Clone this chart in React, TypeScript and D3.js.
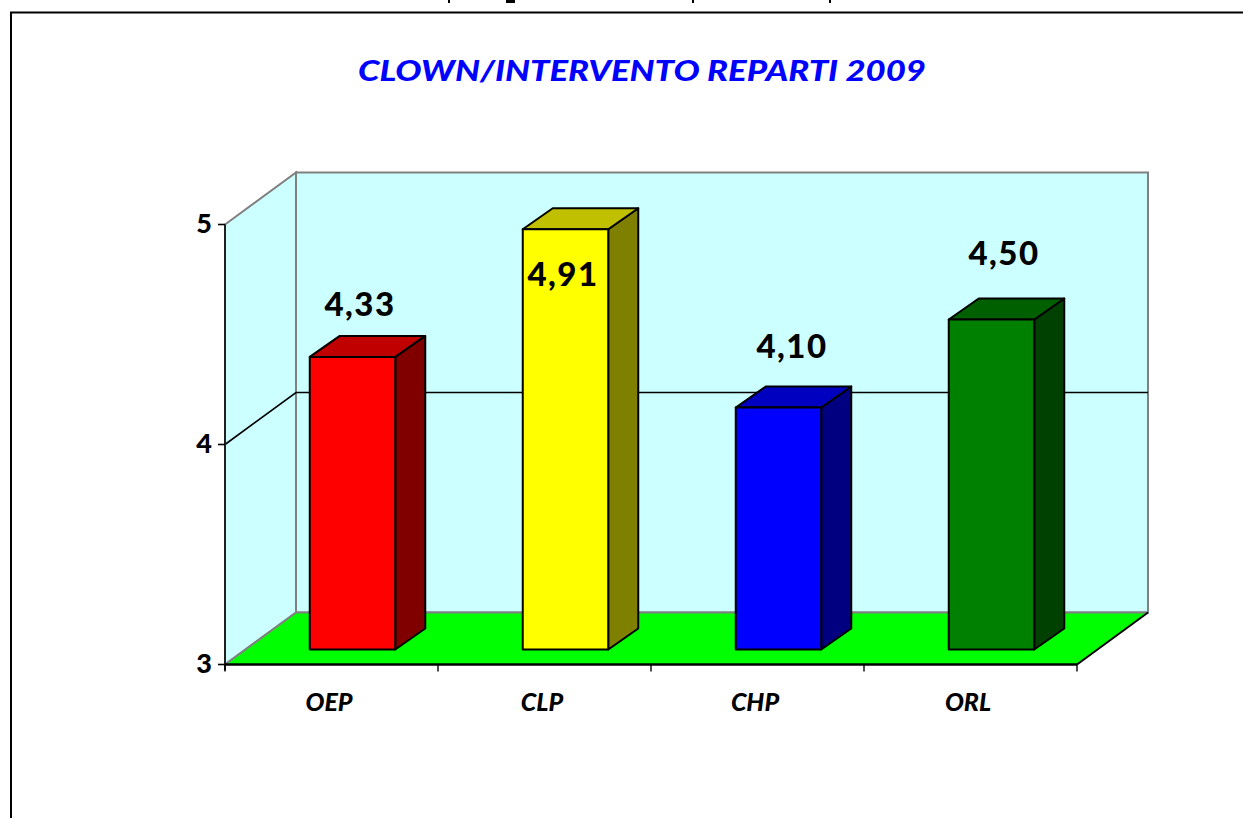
import React from 'react';
import * as d3 from 'd3';

const categories = ['OEP', 'CLP', 'CHP', 'ORL'];
const values = [4.33, 4.91, 4.10, 4.50];
const valueLabels = ['4,33', '4,91', '4,10', '4,50'];
const yTicks = [3, 4, 5];
const frontColors = ['#ff0000', '#ffff00', '#0000ff', '#008000'];
const topColors = ['#c00000', '#c0c000', '#0000c0', '#006000'];
const sideColors = ['#800000', '#808000', '#000080', '#004000'];
const titleText = 'CLOWN/INTERVENTO REPARTI 2009';

const WIDTH = 1243;
const HEIGHT = 818;
const FONT = '"Comic Sans MS", Lato, sans-serif';

// front plane of the 3d box, plus the depth of wall and bars
const left = 225;
const right = 1077;
const depthX = 71;
const depthY = 52;
const barDepthX = 30;
const barDepthY = 21;

const x = d3.scaleBand<string>().domain(categories).range([left, right]);
const y = d3.scaleLinear().domain([3, 5]).range([664.5, 224.5]);

const poly = (pts: [number, number][]) => d3.line()(pts) + 'Z';

// label spots as they sit in the original (4,91 is dropped onto the bar)
const labelX = [360, 563, 792, 1004];
const labelY = [316, 286, 358, 265];
// bits of the cut-off line of text above the frame
const croppedMarks = [[448, 2], [506, 9], [692, 2], [829, 2]];

export default function App() {
  const floorY = y(3);
  const wallTop = y(5);
  const barW = 85.5;
  const barShift = (depthX - barDepthX) / 2 + 0.5;
  const barLift = (depthY - barDepthY) / 2 - 0.5;

  return (
    <svg
      width={WIDTH}
      height={HEIGHT}
      style={{ position: 'fixed', left: 0, top: 0, background: '#fff' }}
    >
      {/* outer frame runs off the picture on the right and bottom */}
      <rect x={11} y={12.5} width={WIDTH + 20} height={HEIGHT + 20} fill="#fff" stroke="#000" strokeWidth={2} />
      {croppedMarks.map(([mx, mw]) => (
        <rect key={mx} x={mx} y={0} width={mw} height={3} fill="#000" />
      ))}

      <text
        x={642}
        y={81}
        textAnchor="middle"
        fontFamily={FONT}
        fontSize={28}
        fontWeight={900}
        fontStyle="italic"
        fill="#0000ff"
        textLength={568}
        lengthAdjust="spacingAndGlyphs"
      >
        {titleText}
      </text>

      {/* back wall */}
      <rect
        x={left + depthX}
        y={wallTop - depthY}
        width={right - left}
        height={floorY - wallTop}
        fill="#ccffff"
        stroke="#808080"
        strokeWidth={2}
      />
      {/* side wall */}
      <path
        d={poly([
          [left, wallTop],
          [left + depthX, wallTop - depthY],
          [left + depthX, floorY - depthY],
          [left, floorY],
        ])}
        fill="#ccffff"
        stroke="#808080"
        strokeWidth={2}
      />
      {/* floor */}
      <path
        d={poly([
          [left, floorY],
          [left + depthX, floorY - depthY],
          [right + depthX, floorY - depthY],
          [right, floorY],
        ])}
        fill="#00ff00"
      />
      <line x1={left} y1={floorY} x2={left + depthX} y2={floorY - depthY} stroke="#808080" strokeWidth={2} />
      <line x1={left + depthX} y1={floorY - depthY} x2={right + depthX} y2={floorY - depthY} stroke="#808080" strokeWidth={2} />
      <line x1={right} y1={floorY} x2={right + depthX} y2={floorY - depthY} stroke="#000" strokeWidth={2} />

      {/* gridline at 4 */}
      <path
        d={`M${left},${y(4)}L${left + depthX},${y(4) - depthY}L${right + depthX},${y(4) - depthY}`}
        fill="none"
        stroke="#000"
        strokeWidth={1.6}
      />

      {/* bars */}
      {categories.map((c, i) => {
        const x0 = (x(c) as number) + (x.bandwidth() - barW) / 2 + barShift;
        const x1 = x0 + barW;
        const y0 = y(3) - barLift;
        const y1 = y(values[i]) - barLift;
        return (
          <g key={c} stroke="#000" strokeWidth={2} strokeLinejoin="round">
            <path
              d={poly([
                [x1, y0],
                [x1 + barDepthX, y0 - barDepthY],
                [x1 + barDepthX, y1 - barDepthY],
                [x1, y1],
              ])}
              fill={sideColors[i]}
            />
            <path
              d={poly([
                [x0, y1],
                [x0 + barDepthX, y1 - barDepthY],
                [x1 + barDepthX, y1 - barDepthY],
                [x1, y1],
              ])}
              fill={topColors[i]}
            />
            <rect x={x0} y={y1} width={barW} height={y0 - y1} fill={frontColors[i]} />
          </g>
        );
      })}

      {/* value labels */}
      {categories.map((c, i) => (
        <text
          key={c}
          x={labelX[i]}
          y={labelY[i]}
          textAnchor="middle"
          fontFamily={FONT}
          fontSize={33}
          fontWeight={900}
          letterSpacing={1.5}
          fill="#000"
        >
          {valueLabels[i]}
        </text>
      ))}

      {/* y axis */}
      <line x1={left} y1={wallTop} x2={left} y2={floorY + 6} stroke="#202020" strokeWidth={2} />
      {yTicks.map((t) => (
        <g key={t}>
          <line x1={left - 7} x2={left} y1={y(t)} y2={y(t)} stroke="#000" strokeWidth={1.6} />
          <text
            x={212}
            y={y(t) + 8}
            textAnchor="end"
            fontFamily={FONT}
            fontSize={27}
            fontWeight={900}
            fill="#000"
          >
            {t}
          </text>
        </g>
      ))}

      {/* x axis */}
      <line x1={left} y1={floorY} x2={right} y2={floorY} stroke="#000" strokeWidth={2.4} />
      {d3.range(categories.length + 1).map((i) => {
        const tx = left + i * x.step();
        return <line key={i} x1={tx} x2={tx} y1={floorY} y2={floorY + 7} stroke="#000" strokeWidth={1.4} />;
      })}
      {categories.map((c) => (
        <text
          key={c}
          x={(x(c) as number) + x.bandwidth() / 2 - 2.5}
          y={711}
          textAnchor="middle"
          fontFamily={FONT}
          fontSize={25}
          fontWeight={900}
          fontStyle="italic"
          fill="#000"
        >
          {c}
        </text>
      ))}
    </svg>
  );
}
